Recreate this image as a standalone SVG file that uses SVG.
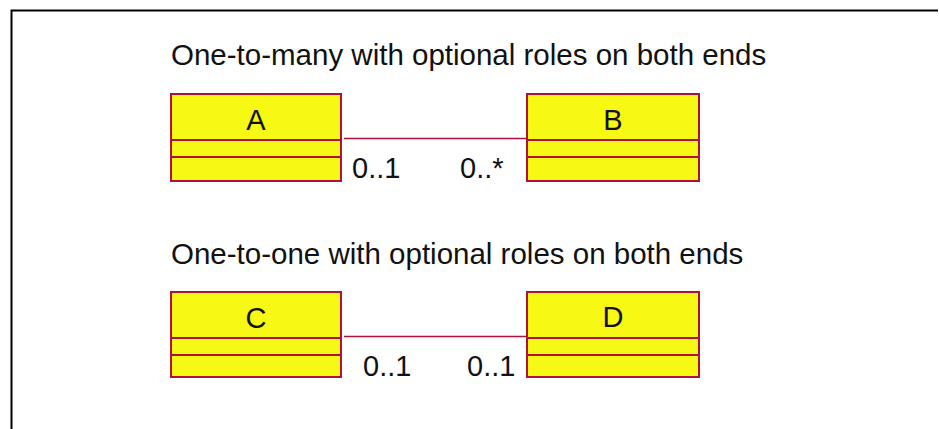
<svg xmlns="http://www.w3.org/2000/svg" width="939" height="429" viewBox="0 0 939 429">
  <style>
    .frame { fill: none; stroke: #000; stroke-width: 2; }
    .cls { fill: #f8f815; stroke: #b0103c; stroke-width: 2; }
    .div { stroke: #b0103c; stroke-width: 2; }
    .assoc { stroke: #b0103c; stroke-width: 1.6; fill: none; }
    text { font-family: "Liberation Sans", Arial, sans-serif; fill: #111; }
    .title { font-size: 29.5px; }
    .name { font-size: 29px; text-anchor: middle; }
    .mult { font-size: 29px; }
  </style>
  <rect width="939" height="429" fill="#fff"/>
  <path class="frame" d="M11.5 429 V10.5 H938"/>

  <text class="title" x="171" y="65">One-to-many with optional roles on both ends</text>
  <text class="title" x="171" y="264">One-to-one with optional roles on both ends</text>

  <g id="A">
    <rect class="cls" x="171" y="94" width="170" height="87"/>
    <line class="div" x1="171" y1="140" x2="341" y2="140"/>
    <line class="div" x1="171" y1="157" x2="341" y2="157"/>
    <text class="name" x="256" y="130">A</text>
  </g>
  <g id="B">
    <rect class="cls" x="527" y="94" width="172" height="87"/>
    <line class="div" x1="527" y1="140" x2="699" y2="140"/>
    <line class="div" x1="527" y1="157" x2="699" y2="157"/>
    <text class="name" x="613" y="130">B</text>
  </g>
  <g id="C">
    <rect class="cls" x="171" y="292" width="170" height="85"/>
    <line class="div" x1="171" y1="338" x2="341" y2="338"/>
    <line class="div" x1="171" y1="355" x2="341" y2="355"/>
    <text class="name" x="256" y="328">C</text>
  </g>
  <g id="D">
    <rect class="cls" x="527" y="292" width="172" height="85"/>
    <line class="div" x1="527" y1="338" x2="699" y2="338"/>
    <line class="div" x1="527" y1="355" x2="699" y2="355"/>
    <text class="name" x="613" y="327">D</text>
  </g>

  <g id="connectors">
    <line class="assoc" x1="344" y1="138.5" x2="527" y2="138.5"/>
    <line class="assoc" x1="344" y1="336.5" x2="527" y2="336.5"/>
    <text class="mult" x="352" y="178">0..1</text>
    <text class="mult" x="460" y="178">0..*</text>
    <text class="mult" x="363" y="376">0..1</text>
    <text class="mult" x="467" y="376">0..1</text>
  </g>
</svg>
